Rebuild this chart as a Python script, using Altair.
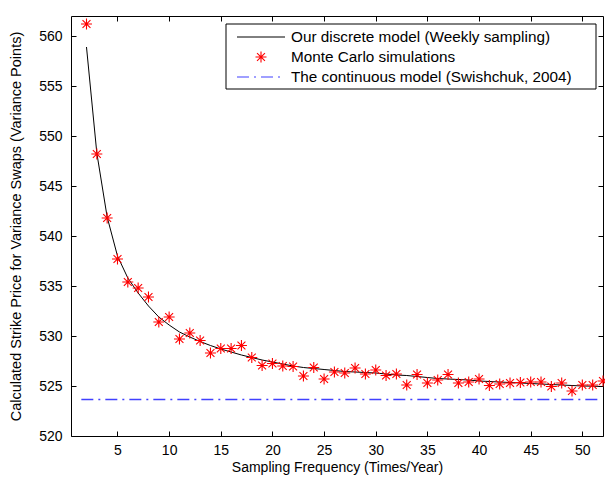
import altair as alt
import pandas as pd

# ---------------- data ----------------
freq = list(range(2, 53))

discrete_model = [558.9, 548.3, 541.9, 538.0, 535.8, 534.3, 533.0, 531.9, 531.1, 530.4,
                  529.9, 529.45, 529.05, 528.7, 528.4, 528.1, 527.85, 527.6, 527.4, 527.2,
                  527.0, 526.85, 526.75, 526.65, 526.55, 526.45, 526.4, 526.35, 526.3, 526.2,
                  526.1, 526.05, 525.95, 525.85, 525.75, 525.7, 525.65, 525.6, 525.5, 525.45,
                  525.4, 525.35, 525.3, 525.25, 525.2, 525.15, 525.1, 525.05, 525.0, 524.98,
                  524.95]

monte_carlo = [561.2, 548.2, 541.8, 537.7, 535.4, 534.8, 533.9, 531.4, 531.9, 529.7,
               530.3, 529.55, 528.3, 528.75, 528.75, 529.05, 527.85, 527.05, 527.25, 527.0,
               526.95, 526.0, 526.85, 525.7, 526.4, 526.3, 526.8, 526.2, 526.6, 526.05,
               526.2, 525.1, 526.15, 525.3, 525.6, 526.15, 525.3, 525.4, 525.7, 525.05,
               525.2, 525.3, 525.35, 525.4, 525.4, 524.95, 525.3, 524.5, 525.1, 525.1,
               525.5]

continuous_start = [1.5]
continuous_end = [51.6]
continuous_model = [523.65]

x_ticks = [5, 10, 15, 20, 25, 30, 35, 40, 45, 50]
y_ticks = [520, 525, 530, 535, 540, 545, 550, 555, 560]

legend_labels = ["Our discrete model (Weekly sampling)",
                 "Monte Carlo simulations",
                 "The continuous model (Swishchuk, 2004)"]

x_title = "Sampling Frequency (Times/Year)"
y_title = "Calculated Strike Price for Variance Swaps (Variance Points)"

# ---------------- style ----------------
FONT = "Liberation Sans"
FS = 14
LEG_FS = 15.3
ASTER = "M-1,0L1,0M0,-1L0,1M-0.72,-0.72L0.72,0.72M-0.72,0.72L0.72,-0.72"
RED = "#ff0000"
BLUE = "#0000ff"
DASHDOT = [12, 5, 2, 5]

W, H = 532, 420

curve_df = pd.DataFrame({"freq": freq, "value": discrete_model})
mc_df = pd.DataFrame({"freq": freq, "value": monte_carlo})
cont_df = pd.DataFrame({"start": continuous_start, "end": continuous_end,
                        "value": continuous_model})

xscale = alt.Scale(domain=[0.5, 52], nice=False, zero=False)
yscale = alt.Scale(domain=[520, 562], nice=False, zero=False)

curve = alt.Chart(curve_df).mark_line(color="black", strokeWidth=1).encode(
    x=alt.X("freq:Q", scale=xscale,
            axis=alt.Axis(orient="bottom", values=x_ticks, offset=-5, tickSize=5,
                          domain=False, grid=False, labelPadding=7, title=x_title,
                          titlePadding=3)),
    y=alt.Y("value:Q", scale=yscale,
            axis=alt.Axis(orient="left", values=y_ticks, offset=-5, tickSize=5,
                          domain=False, grid=False, labelPadding=9, title=y_title,
                          titlePadding=15, titleFontSize=14.5)),
)

points = alt.Chart(mc_df).mark_point(shape=ASTER, size=121, color=RED, filled=False,
                                     strokeWidth=1.1, opacity=1).encode(
    x=alt.X("freq:Q", scale=xscale,
            axis=alt.Axis(orient="top", values=x_ticks, offset=-5, tickSize=5,
                          domain=False, grid=False, labels=False, title=None)),
    y=alt.Y("value:Q", scale=yscale,
            axis=alt.Axis(orient="right", values=y_ticks, offset=-5, tickSize=5,
                          domain=False, grid=False, labels=False, title=None)),
)

cont = alt.Chart(cont_df).mark_rule(strokeWidth=1.6, strokeDash=DASHDOT, opacity=0.75).encode(
    x=alt.X("start:Q", scale=xscale, axis=None),
    x2="end:Q",
    y=alt.Y("value:Q", scale=yscale, axis=None),
    color=alt.value(BLUE),
)

# ---------------- legend (drawn inside the plot, top right) ----------------
box = alt.Chart(pd.DataFrame({"label": ["legend"]})).mark_rect(
    fill="white", stroke="black", strokeWidth=1).encode(
    x=alt.value(155), x2=alt.value(525), y=alt.value(8), y2=alt.value(73))

row_y = [21, 41, 61]
leg_line = alt.Chart(pd.DataFrame({"label": [legend_labels[0]]})).mark_rule(
    color="black", strokeWidth=1).encode(
    x=alt.value(166), x2=alt.value(214), y=alt.value(row_y[0]))
leg_star = alt.Chart(pd.DataFrame({"label": [legend_labels[1]]})).mark_point(
    shape=ASTER, size=121, color=RED, filled=False, strokeWidth=1.1, opacity=1).encode(
    x=alt.value(190), y=alt.value(row_y[1]))
leg_dash = alt.Chart(pd.DataFrame({"label": [legend_labels[2]]})).mark_rule(
    strokeWidth=1.2, strokeDash=DASHDOT, opacity=0.75).encode(
    x=alt.value(166), x2=alt.value(214), y=alt.value(row_y[2]), color=alt.value(BLUE))

texts = []
for lab, yy in zip(legend_labels, row_y):
    texts.append(
        alt.Chart(pd.DataFrame({"label": [lab]})).mark_text(
            align="left", baseline="middle", font=FONT, fontSize=LEG_FS, color="black").encode(
            text="label:N", x=alt.value(220), y=alt.value(yy)))

chart = alt.layer(curve, points, box, leg_line, leg_star, leg_dash, *texts, cont).resolve_axis(
    x="independent", y="independent"
).properties(
    width=W, height=H,
    padding={"left": 63, "top": 8, "right": 2, "bottom": 41},
    autosize=alt.AutoSizeParams(type="none"),
).configure_view(
    stroke="black", strokeWidth=1
).configure_axis(
    labelFont=FONT, titleFont=FONT, labelFontSize=FS, titleFontSize=FS,
    labelColor="black", titleColor="black", tickColor="black", tickWidth=1,
    titleFontWeight="normal"
)

chart.save("out.html", embed_options={"renderer": "svg", "actions": False})
